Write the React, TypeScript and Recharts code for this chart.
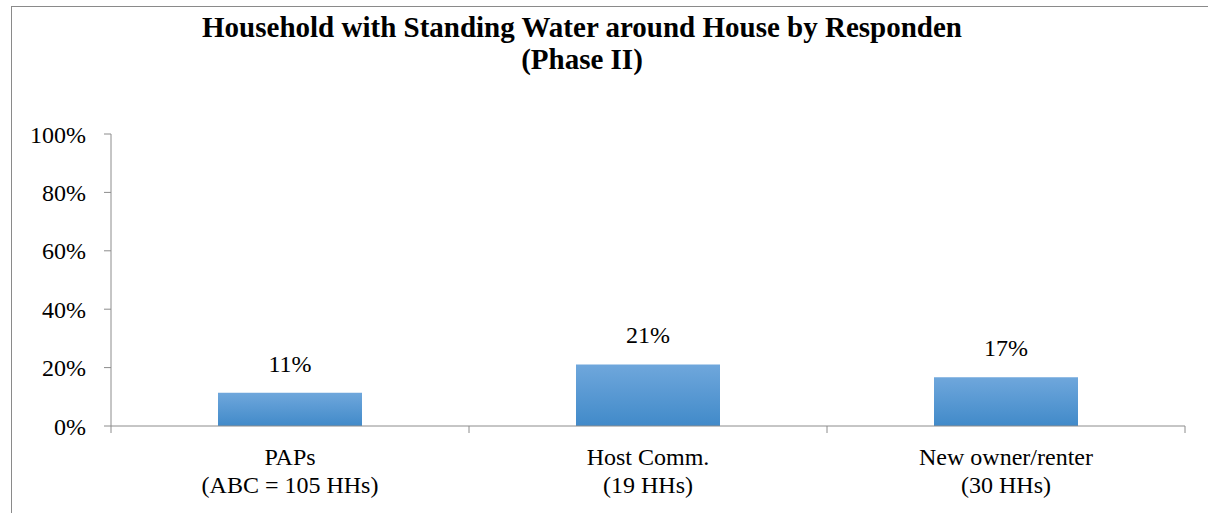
import React from "react";
import { BarChart, Bar, XAxis, YAxis, LabelList } from "recharts";

const categories = ["PAPs", "Host Comm.", "New owner/renter"];
const groupSizes = ["(ABC = 105 HHs)", "(19 HHs)", "(30 HHs)"];
const standingWater = [11.4, 21.1, 16.7];
const yTicks = [0, 20, 40, 60, 80, 100];

const data = categories.map((name, i) => ({
  name,
  sub: groupSizes[i],
  value: standingWater[i],
}));

const FONT = "'Liberation Serif', Tinos, 'Times New Roman', 'DejaVu Serif', serif";
const AXIS = "#8c8c8c";

function CategoryTick(props: any) {
  const { x, y, payload, index, visibleTicksCount } = props;
  const half = payload?.offset ?? 0;
  const row = data[index];
  return (
    <g>
      <line x1={x - half} x2={x - half} y1={y - 8} y2={y - 1} stroke={AXIS} />
      {index === visibleTicksCount - 1 && (
        <line x1={x + half} x2={x + half} y1={y - 8} y2={y - 1} stroke={AXIS} />
      )}
      <text x={x} y={y + 31} textAnchor="middle" style={{ fontFamily: FONT, fontSize: 24 }} fill="#000">
        {row?.name}
      </text>
      <text x={x} y={y + 59} textAnchor="middle" style={{ fontFamily: FONT, fontSize: 24 }} fill="#000">
        {row?.sub}
      </text>
    </g>
  );
}

export default function App() {
  return (
    <div style={{ position: "absolute", left: 0, top: 0, width: 1208, height: 513, overflow: "hidden", background: "#fff" }}>
      <div
        style={{
          position: "absolute",
          left: 11,
          top: 6,
          width: 1400,
          height: 700,
          borderLeft: "1px solid #8a8a8a",
          borderTop: "1px solid #8a8a8a",
        }}
      />
      <div
        style={{
          position: "absolute",
          left: 0,
          top: 11,
          width: 1164,
          textAlign: "center",
          fontFamily: FONT,
          fontWeight: "bold",
          fontSize: 29,
          lineHeight: "32px",
          color: "#000",
        }}
      >
        Household with Standing Water around House by Responden
        <br />
        (Phase II)
      </div>
      <div style={{ position: "absolute", left: 0, top: 0 }}>
        <BarChart
          width={1208}
          height={513}
          data={data}
          margin={{ top: 134, right: 23, left: 0, bottom: 0 }}
        >
          <defs>
            <linearGradient id="barFill" x1="0" y1="0" x2="0" y2="1">
              <stop offset="0%" stopColor="#6fa7dc" />
              <stop offset="100%" stopColor="#418ac9" />
            </linearGradient>
          </defs>
          <XAxis
            dataKey="name"
            height={87}
            stroke={AXIS}
            tickLine={false}
            tick={<CategoryTick />}
            interval={0}
          />
          <YAxis
            width={111}
            domain={[0, 100]}
            ticks={yTicks}
            stroke={AXIS}
            tickSize={7}
            tickMargin={18}
            tickFormatter={(v: number) => `${v}%`}
            tick={{ style: { fontFamily: FONT, fontSize: 24 }, fill: "#000" }}
            interval={0}
          />
          <Bar dataKey="value" fill="url(#barFill)" barSize={144} isAnimationActive={false}>
            <LabelList
              dataKey="value"
              position="top"
              offset={21}
              formatter={(v: any) => `${Math.round(Number(v))}%`}
              style={{ fontFamily: FONT, fontSize: 24, fill: "#000" }}
            />
          </Bar>
        </BarChart>
      </div>
    </div>
  );
}
